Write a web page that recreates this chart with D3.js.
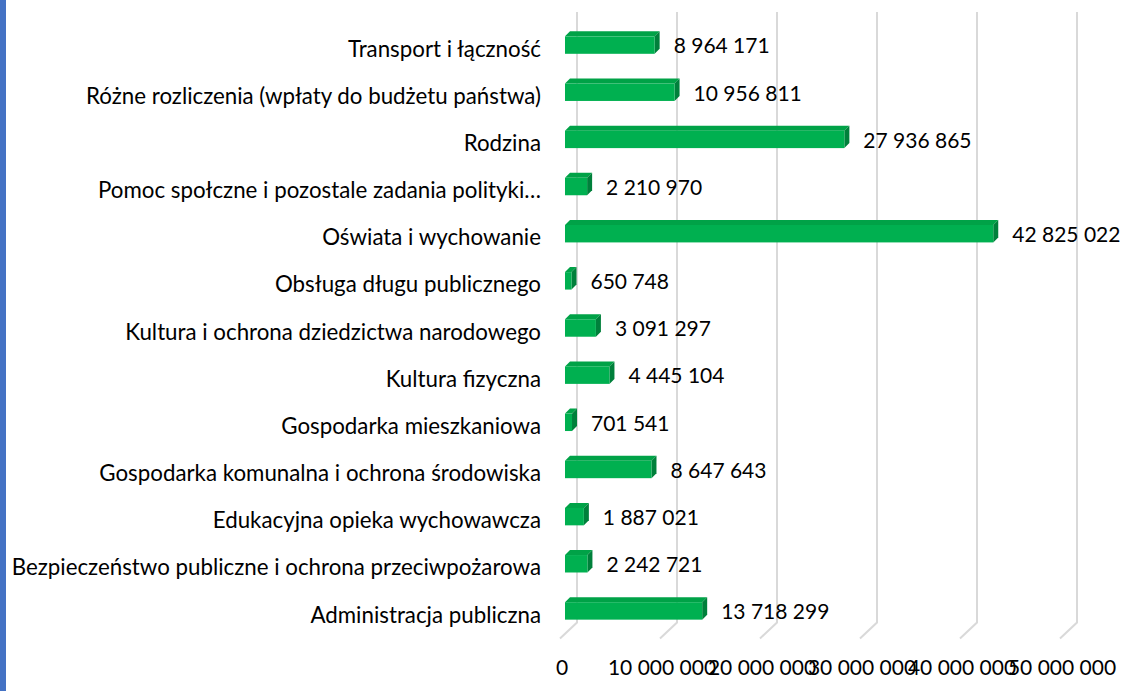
<!DOCTYPE html>
<html>
<head>
<meta charset="utf-8">
<script src="https://cdn.jsdelivr.net/npm/d3@7"></script>
<style>
    html, body { margin: 0; padding: 0; background: #fff; }
    #chart { width: 1142px; height: 691px; }
</style>
</head>
<body>
<div id="chart"></div>
<script>
// categories from bottom to top, as in the source chart
const categories = [
    'Administracja publiczna',
    'Bezpieczeństwo publiczne i ochrona przeciwpożarowa',
    'Edukacyjna opieka wychowawcza',
    'Gospodarka komunalna i ochrona środowiska',
    'Gospodarka mieszkaniowa',
    'Kultura fizyczna',
    'Kultura i ochrona dziedzictwa narodowego',
    'Obsługa długu publicznego',
    'Oświata i wychowanie',
    'Pomoc społczne i pozostale zadania polityki…',
    'Rodzina',
    'Różne rozliczenia (wpłaty do budżetu państwa)',
    'Transport i łączność'
];
const values = [
    13718299, 2242721, 1887021, 8647643, 701541, 4445104, 3091297,
    650748, 42825022, 2210970, 27936865, 10956811, 8964171
];
const tickValues = [0, 10000000, 20000000, 30000000, 40000000, 50000000];

const attrs = {
    width: 1142,
    height: 691,
    barLeft: 565,
    barRight: 1065,
    plotTop: 21.5,
    plotBottom: 634.5,
    gridTop: 12,
    depthX: 5,      // bar top/side offset
    depthY: -5,
    backX: 12,      // back wall offset vs bar front
    floorDrop: 16,
    font: 'Lato, "Open Sans", sans-serif',
    green: '#00b050',
    greenTop: '#00a247',
    greenSide: '#00803b'
};

const locale = d3.formatLocale({ decimal: ',', thousands: ' ', grouping: [3], currency: ['', ''] });
const fmt = locale.format(',d');

const svg = d3.select('#chart').append('svg')
    .attr('width', attrs.width)
    .attr('height', attrs.height)
    .attr('font-family', attrs.font);

// blue frame edge on the left
svg.append('rect')
    .attr('x', 0).attr('y', 0)
    .attr('width', 6).attr('height', attrs.height)
    .attr('fill', '#4472c4');

const x = d3.scaleLinear()
    .domain([0, 50000000])
    .range([attrs.barLeft, attrs.barRight]);

const y = d3.scaleBand()
    .domain(categories.slice().reverse())
    .range([attrs.plotTop, attrs.plotBottom])
    .paddingInner(0.63)
    .paddingOuter(0.315);

// gridlines: vertical on back wall, slanted across the floor
const grid = svg.append('g').attr('class', 'grid');
grid.selectAll('path')
    .data(tickValues)
    .join('path')
    .attr('d', d => {
        const bx = x(d) + attrs.backX;
        const floorY = attrs.plotBottom - 12;
        return `M${bx},${attrs.gridTop}L${bx},${floorY}L${bx - 17},${floorY + attrs.floorDrop}`;
    })
    .attr('fill', 'none')
    .attr('stroke', '#d9d9d9')
    .attr('stroke-width', 2);

// tick labels
svg.append('g').selectAll('text')
    .data(tickValues)
    .join('text')
    .attr('x', d => x(d) - 3)
    .attr('y', 670)
    .attr('text-anchor', 'middle')
    .attr('dominant-baseline', 'middle')
    .attr('font-size', 21)
    .attr('fill', '#000')
    .text(d => fmt(d));

// category labels
svg.append('g').selectAll('text')
    .data(categories)
    .join('text')
    .attr('x', 541)
    .attr('y', d => y(d) + y.bandwidth() / 2 + 6)
    .attr('text-anchor', 'end')
    .attr('dominant-baseline', 'middle')
    .attr('font-size', 22.3)
    .attr('fill', '#000')
    .text(d => d);

// 3D bars
const rows = categories.map((c, i) => ({ cat: c, value: values[i] }));
const bars = svg.append('g').selectAll('g')
    .data(rows)
    .join('g');

const dx = attrs.depthX, dy = attrs.depthY;

bars.append('path') // top face
    .attr('d', d => {
        const x0 = x(0), x1 = x(d.value), t = y(d.cat);
        return `M${x0},${t}L${x0 + dx},${t + dy}L${x1 + dx},${t + dy}L${x1},${t}Z`;
    })
    .attr('fill', attrs.greenTop);

bars.append('path') // side face
    .attr('d', d => {
        const x1 = x(d.value), t = y(d.cat), b = t + y.bandwidth();
        return `M${x1},${t}L${x1 + dx},${t + dy}L${x1 + dx},${b + dy}L${x1},${b}Z`;
    })
    .attr('fill', attrs.greenSide);

bars.append('rect') // front face
    .attr('x', x(0))
    .attr('y', d => y(d.cat))
    .attr('width', d => x(d.value) - x(0))
    .attr('height', y.bandwidth())
    .attr('fill', attrs.green);

// value labels
svg.append('g').selectAll('text')
    .data(rows)
    .join('text')
    .attr('x', d => x(d.value) + 19)
    .attr('y', d => y(d.cat) + y.bandwidth() / 2 + 3)
    .attr('dominant-baseline', 'middle')
    .attr('font-size', 21)
    .attr('fill', '#000')
    .text(d => fmt(d.value));
</script>
</body>
</html>
